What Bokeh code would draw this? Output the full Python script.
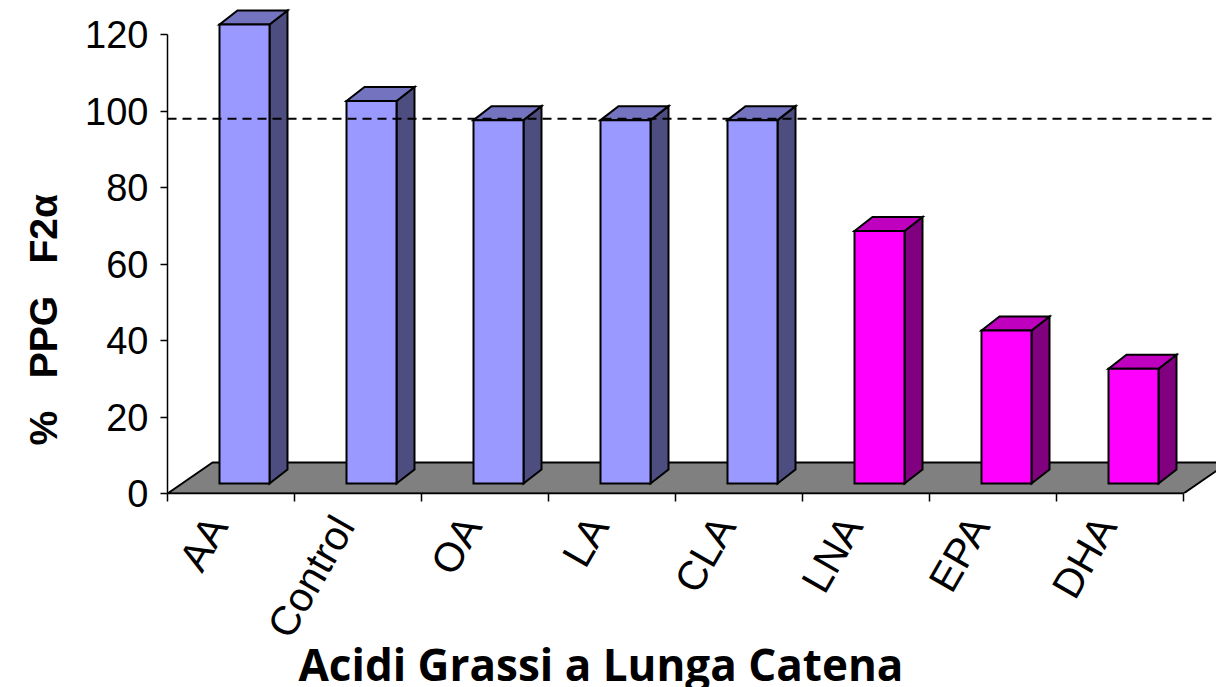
import numpy as np
from math import pi
from bokeh.plotting import figure
from bokeh.models import Range1d, FixedTicker, Span, Title, ColumnDataSource
from bokeh.embed import file_html
from bokeh.resources import INLINE

# ---- data -------------------------------------------------------------
categories = ["AA", "Control", "OA", "LA", "CLA", "LNA", "EPA", "DHA"]
values = [120, 100, 95, 95, 95, 66, 40, 30]
groups = ["other", "other", "other", "other", "other", "omega3", "omega3", "omega3"]
reference_level = 98
y_ticks = [0, 20, 40, 60, 80, 100, 120]
x_title = "Acidi Grassi a Lunga Catena"
y_title = "%\u00a0\u00a0 PPG\u00a0\u00a0 F2α"

# ---- style -----------------------------------------------------------
palette = {
    "other": ("#9999FF", "#4D4D80", "#7373BF"),   # front, side, top
    "omega3": ("#FF00FF", "#800080", "#BF00BF"),
}
W, H = 1216, 687
FRAME_L, FRAME_T, FRAME_B = 167, 8, 493
PX_X = 127.0    # pixels per category
PX_Y = 3.825    # pixels per value unit
bar_shift = 13.5 / PX_X
half_w = 25.0 / PX_X
ddx = 18.0 / PX_X
ddy = 14.0 / PX_Y
base = 10.0 / PX_Y
floor_dx = 45.0 / PX_X
floor_dy = 31.0 / PX_Y
label_shift = 14.0 / PX_X

n = len(categories)
pos = np.arange(1, n + 1, dtype=float)
vals = np.array(values, dtype=float)

left = pos + bar_shift - half_w
right = pos + bar_shift + half_w
top = base + vals

front_col = [palette[g][0] for g in groups]
side_col = [palette[g][1] for g in groups]
top_col = [palette[g][2] for g in groups]

p = figure(width=W, height=H, output_backend="svg", toolbar_location=None,
           x_range=Range1d(0.5, 0.5 + (W - FRAME_L) / PX_X),
           y_range=Range1d(0, (FRAME_B - FRAME_T) / PX_Y),
           min_border_left=FRAME_L, min_border_right=0, min_border_top=FRAME_T,
           min_border_bottom=H - FRAME_B)
p.outline_line_color = None
p.xgrid.visible = False
p.ygrid.visible = False
p.background_fill_color = "white"

# floor
p.patch([0.5, n + 0.5, n + 0.5 + floor_dx, 0.5 + floor_dx],
        [0, 0, floor_dy, floor_dy],
        fill_color="#808080", line_color="black", line_width=2)

# bars
src = ColumnDataSource(dict(
    left=left, right=right, bottom=np.full(n, base), top=top,
    front=front_col, side=side_col, topc=top_col,
    sxs=[[r, r + ddx, r + ddx, r] for r in right],
    sys=[[base, base + ddy, t + ddy, t] for t in top],
    txs=[[l, l + ddx, r + ddx, r] for l, r in zip(left, right)],
    tys=[[t, t + ddy, t + ddy, t] for t in top],
))
p.patches("sxs", "sys", source=src, fill_color="side", line_color="black",
          line_width=2, line_join="miter")
p.patches("txs", "tys", source=src, fill_color="topc", line_color="black",
          line_width=2, line_join="miter")
p.quad(left="left", right="right", bottom="bottom", top="top", source=src,
       fill_color="front", line_color="black", line_width=2, line_join="miter")

# dashed reference line
p.add_layout(Span(location=reference_level, dimension="width", line_color="black",
                  line_width=2, line_dash="9 6"))

# y axis
ya = p.yaxis[0]
ya.ticker = FixedTicker(ticks=y_ticks)
ya.bounds = (0, 120)
ya.major_tick_out = 7
ya.major_tick_in = 0
ya.minor_tick_out = 0
ya.minor_tick_in = 0
ya.axis_line_width = 1.5
ya.major_tick_line_width = 1.5
ya.major_label_text_font = "Liberation Sans"
ya.major_label_text_font_size = "38px"
ya.major_label_text_color = "black"
ya.major_label_standoff = 12

# x axis (labels sit at the category centres, boundaries carry the tick marks)
label_pos = [float(x) for x in (pos - label_shift)]
xa = p.xaxis[0]
xa.ticker = FixedTicker(ticks=label_pos, minor_ticks=list(np.arange(0.5, n + 1, 1.0)))
xa.bounds = (0.5, n + 0.5)
xa.major_label_overrides = {k: c for k, c in zip(label_pos, categories)}
xa.major_tick_out = 0
xa.major_tick_in = 0
xa.minor_tick_out = 8
xa.minor_tick_in = 0
xa.minor_tick_line_width = 1.5
xa.axis_line_width = 1.5
xa.major_label_orientation = 1.05
xa.major_label_text_font = "Liberation Sans"
xa.major_label_text_font_size = "41px"
xa.major_label_text_color = "black"
xa.major_label_standoff = 18

# axis titles
p.add_layout(Title(text=x_title, align="left", offset=131,
                   standoff=-66, text_font="Open Sans", text_font_size="44px",
                   text_font_style="bold", text_color="black"), "below")
p.add_layout(Title(text=y_title, align="left", offset=48, standoff=36,
                   text_font="Liberation Sans", text_font_size="39px",
                   text_font_style="bold", text_color="black"), "left")

open("out.html", "w").write(file_html(p, INLINE))
